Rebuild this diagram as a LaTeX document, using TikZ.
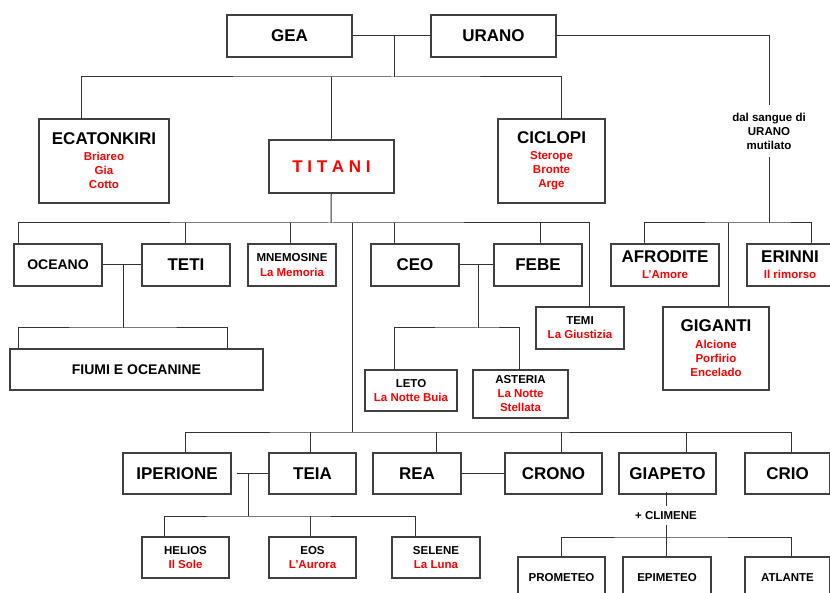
\documentclass[tikz,border=0pt]{standalone}
\usepackage{fontspec}
\setmainfont{Liberation Sans}
\usepackage{tikz}
\usepackage{color}

\newcommand{\titolo}[1]{{\fontsize{17}{17}\selectfont #1}}
\newcommand{\nota}[1]{\textcolor{red}{#1}}

\tikzset{
  scatola/.style 2 args={draw=black!75, line width=1.2pt, rectangle, inner sep=0pt,
    align=center, minimum width=#1pt, minimum height=#2pt},
  etichetta/.style={align=center, inner xsep=2pt, inner ysep=8pt},
  filo/.style={draw=black!80, line width=1pt},
}

\begin{document}
\begin{tikzpicture}[x=1pt, y=-1pt, font=\bfseries\fontsize{11.5}{14}\selectfont]
    \useasboundingbox (0,0) rectangle (830,593);

    % Gea e Urano
    \node[scatola={125}{42}] (gea) at (289.5,36) {\titolo{GEA}};
    \node[scatola={125}{42}] (urano) at (493.5,36) {\titolo{URANO}};
    \coordinate (nozze) at (394,77);
    \draw[filo] (gea) -- (urano);
    \draw[filo] (nozze |- gea) -- (nozze);

    % primi figli
    \node[scatola={130}{84}] (ecatonkiri) at (104,161)
        {\titolo{ECATONKIRI}\\[2pt] \nota{Briareo}\\ \nota{Gia}\\ \nota{Cotto}};
    \node[scatola={125}{53}] (titani) at (331.5,166.5) {\titolo{\nota{T I T A N I}}};
    \node[scatola={107}{84}] (ciclopi) at (551.5,161)
        {\titolo{CICLOPI}\\[2pt] \nota{Sterope}\\ \nota{Bronte}\\ \nota{Arge}};
    \draw[filo] (ecatonkiri.north -| 81,0) |- (nozze) -| (ciclopi.north -| 561,0);
    \draw[filo] (titani.north) -- (titani.north |- nozze);

    % dal sangue di Urano
    \node[etichetta] (sangue) at (769,131) {dal sangue di\\URANO\\mutilato};
    \coordinate (sb) at (769,223);
    \node[scatola={108}{42}] (afrodite) at (665,265) {\titolo{AFRODITE}\\[2pt] \nota{L'Amore}};
    \node[scatola={86}{42}] (erinni) at (790,265) {\titolo{ERINNI}\\[2pt] \nota{Il rimorso}};
    \node[scatola={106}{83}] (giganti) at (716,348.5)
        {\titolo{GIGANTI}\\[3pt] \nota{Alcione}\\ \nota{Porfirio}\\ \nota{Encelado}};
    \draw[filo] (urano) -| (sangue);
    \draw[filo] (sangue) -- (sb);
    \draw[filo] (afrodite.north -| 644,0) |- (sb) -| (erinni.north -| 811,0);
    \draw[filo] (giganti.north -| 728,0) -- (sb -| 728,0);

    % figli dei Titani
    \node[scatola={88}{42}] (oceano) at (58,265) {{\fontsize{14}{14}\selectfont OCEANO}};
    \node[scatola={88}{42}] (teti) at (186,265) {\titolo{TETI}};
    \node[scatola={88}{42}] (mnemosine) at (292,265) {MNEMOSINE\\[1pt] \nota{La Memoria}};
    \node[scatola={88}{42}] (ceo) at (415,265) {\titolo{CEO}};
    \node[scatola={88}{42}] (febe) at (538,265) {\titolo{FEBE}};
    \node[scatola={88}{42}] (temi) at (580,328) {TEMI\\ \nota{La Giustizia}};
    \coordinate (tb) at (331,223);
    \draw[filo] (titani) -- (tb);
    \draw[filo] (oceano.north -| 18,0) |- (tb) -| (temi.north -| 589,0);
    \draw[filo] (teti.north -| 185,0) -- (tb -| 185,0);
    \draw[filo] (mnemosine.north -| 290,0) -- (tb -| 290,0);
    \draw[filo] (ceo.north -| 394,0) -- (tb -| 394,0);
    \draw[filo] (febe.north -| 540,0) -- (tb -| 540,0);

    % Oceano e Teti
    \node[scatola={253}{41}] (fiumi) at (136.5,369.5) {{\fontsize{14}{14}\selectfont FIUMI E OCEANINE}};
    \coordinate (ot) at (123,328);
    \draw[filo] (oceano) -- (teti);
    \draw[filo] (ot |- oceano) -- (ot);
    \draw[filo] (fiumi.north -| 18,0) |- (ot) -| (fiumi.north -| 227,0);

    % Ceo e Febe
    \node[scatola={92}{41}] (leto) at (411,390.5) {LETO\\ \nota{La Notte Buia}};
    \node[scatola={95}{48}] (asteria) at (520.5,394) {ASTERIA\\ \nota{La Notte}\\ \nota{Stellata}};
    \coordinate (cf) at (478,328);
    \draw[filo] (ceo) -- (febe);
    \draw[filo] (cf |- ceo) -- (cf);
    \draw[filo] (leto.north -| 394,0) |- (cf) -| (asteria.north -| 519,0);

    % altri Titani
    \node[scatola={108}{41}] (iperione) at (177,473.5) {\titolo{IPERIONE}};
    \node[scatola={87}{41}] (teia) at (312.5,473.5) {\titolo{TEIA}};
    \node[scatola={88}{41}] (rea) at (417,473.5) {\titolo{REA}};
    \node[scatola={97}{41}] (crono) at (553.5,473.5) {\titolo{CRONO}};
    \node[scatola={97}{41}] (giapeto) at (667.5,473.5) {\titolo{GIAPETO}};
    \node[scatola={85}{41}] (crio) at (787.5,473.5) {\titolo{CRIO}};
    \coordinate (gb) at (352,432);
    \draw[filo] (tb -| gb) -- (gb);
    \draw[filo] (iperione.north -| 185,0) |- (gb) -| (crio.north -| 791,0);
    \draw[filo] (teia.north -| 310,0) -- (gb -| 310,0);
    \draw[filo] (rea.north -| 436,0) -- (gb -| 436,0);
    \draw[filo] (crono.north -| 561,0) -- (gb -| 561,0);
    \draw[filo] (giapeto.north -| 686,0) -- (gb -| 686,0);
    \draw[filo] (rea) -- (crono);

    % Iperione e Teia
    \node[scatola={87}{41}] (helios) at (185.5,557.5) {HELIOS\\ \nota{Il Sole}};
    \node[scatola={87}{41}] (eos) at (312.5,557.5) {EOS\\ \nota{L'Aurora}};
    \node[scatola={88}{41}] (selene) at (436,557.5) {SELENE\\ \nota{La Luna}};
    \coordinate (it) at (248,516);
    \draw[filo] ([xshift=5pt]iperione.east) -- (teia);
    \draw[filo] (it |- iperione) -- (it);
    \draw[filo] (helios.north -| 164,0) |- (it) -| (selene.north -| 415,0);
    \draw[filo] (eos.north -| 310,0) -- (it -| 310,0);

    % Giapeto e Climene
    \node[etichetta, inner ysep=5pt] (climene) at (666,515.5) {+ CLIMENE};
    \node[scatola={87}{41}] (prometeo) at (561.5,577.5) {PROMETEO};
    \node[scatola={88}{41}] (epimeteo) at (667,577.5) {EPIMETEO};
    \node[scatola={85}{41}] (atlante) at (787.5,577.5) {ATLANTE};
    \coordinate (gc) at (666,537);
    \draw[filo] ([yshift=3pt]giapeto.south -| climene) -- (climene);
    \draw[filo] (climene) -- (epimeteo.north -| climene);
    \draw[filo] (prometeo.north -| 561,0) |- (gc) -| (atlante.north -| 791,0);
\end{tikzpicture}
\end{document}
